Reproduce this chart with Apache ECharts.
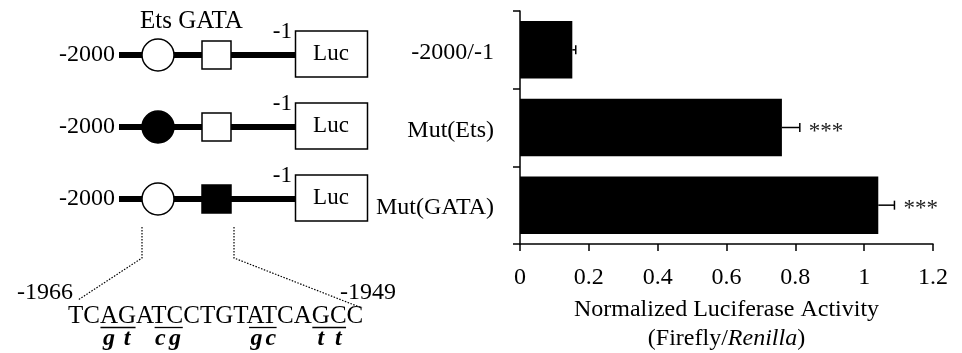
<!DOCTYPE html>
<html>
<head>
<meta charset="utf-8">
<script src="https://cdn.jsdelivr.net/npm/echarts@6/dist/echarts.min.js"></script>
<style>
  html, body { margin: 0; padding: 0; background: #fff; }
  #chart { width: 962px; height: 353px; }
</style>
</head>
<body>
<div id="chart"></div>
<script>
// Reporter constructs and their luciferase readout
const categories = ['-2000/-1', 'Mut(Ets)', 'Mut(GATA)'];
const activity = [0.152, 0.761, 1.041];
const activityErr = [0.010, 0.052, 0.047];
const significance = ['', '***', '***'];

// Value axis range and step
const axisMin = 0;
const axisMax = 1.2;
const axisStep = 0.2;

// Promoter schematic: which site is mutated in each construct
const constructStart = '-2000';
const constructEnd = '-1';
const etsMutated = [false, true, false];
const gataMutated = [false, false, true];

// Sequence detail of the mutated region
const seqStart = '-1966';
const seqEnd = '-1949';
const sequence = 'TCAGATCCTGTATCAGCC';
const mutations = [[2, 'g'], [3, 't'], [5, 'c'], [6, 'g'], [11, 'g'], [12, 'c'], [15, 't'], [16, 't']];

const SERIF = "'Liberation Serif', 'Times New Roman', serif";

function txt(text, x, y, size, align, vAlign) {
  return {
    type: 'text', z: 10,
    style: {
      text: text, x: x, y: y,
      font: size + 'px ' + SERIF,
      fill: '#000',
      align: align, textAlign: align,
      verticalAlign: vAlign, textVerticalAlign: vAlign
    }
  };
}

function buildSchematic() {
  const g = [];
  const rowY = [55, 127, 199];
  g.push(txt('Ets GATA', 140, 21, 25, 'left', 'middle'));
  rowY.forEach(function (y, i) {
    g.push(txt(constructStart, 115, y, 24, 'right', 'middle'));
    g.push({ type: 'line', z: 5, shape: { x1: 119, y1: y, x2: 296, y2: y },
             style: { stroke: '#000', lineWidth: 6 } });
    g.push({ type: 'circle', z: 6, shape: { cx: 158, cy: y, r: 16 },
             style: { fill: etsMutated[i] ? '#000' : '#fff', stroke: '#000', lineWidth: 1.5 } });
    g.push({ type: 'rect', z: 6, shape: { x: 202, y: y - 14, width: 29, height: 28 },
             style: { fill: gataMutated[i] ? '#000' : '#fff', stroke: '#000', lineWidth: 1.5 } });
    g.push({ type: 'rect', z: 6, shape: { x: 295.5, y: y - 24, width: 72, height: 46 },
             style: { fill: '#fff', stroke: '#000', lineWidth: 1.5 } });
    g.push(txt('Luc', 331, y - 1, 23, 'center', 'middle'));
    g.push(txt(constructEnd, 292, y - 23, 23, 'right', 'middle'));
  });

  // dotted leaders from the sites down to the sequence
  const dot = { stroke: '#000', lineWidth: 1.2, lineDash: [1.5, 1.5], fill: null };
  g.push({ type: 'polyline', z: 4, shape: { points: [[142, 227], [142, 258], [78, 300]] }, style: dot });
  g.push({ type: 'polyline', z: 4, shape: { points: [[234, 227], [234, 258], [362, 308]] }, style: dot });

  g.push(txt(seqStart, 73, 293, 24, 'right', 'middle'));
  g.push(txt(seqEnd, 340, 293, 24, 'left', 'middle'));

  // sequence with underlined mutated pairs
  const seqX = 68, seqY = 316, seqSize = 25;
  g.push(txt(sequence, seqX, seqY, seqSize, 'left', 'middle'));
  const ctx = document.createElement('canvas').getContext('2d');
  ctx.font = seqSize + 'px ' + SERIF;
  const charLeft = function (k) { return seqX + ctx.measureText(sequence.slice(0, k)).width; };
  // group consecutive mutated positions into underline runs
  const runs = [];
  mutations.forEach(function (m) {
    const last = runs[runs.length - 1];
    if (last && last[1] === m[0] - 1) last[1] = m[0];
    else runs.push([m[0], m[0]]);
  });
  runs.forEach(function (r) {
    g.push({ type: 'line', z: 6, shape: { x1: charLeft(r[0]) + 0.5, y1: 327.5, x2: charLeft(r[1] + 1) - 0.5, y2: 327.5 },
             style: { stroke: '#000', lineWidth: 1.3 } });
  });
  mutations.forEach(function (m) {
    const cx = (charLeft(m[0]) + charLeft(m[0] + 1)) / 2;
    g.push({ type: 'text', z: 10, style: {
      text: m[1], x: cx, y: 339, fill: '#000',
      font: 'italic bold 24px ' + SERIF,
      align: 'center', textAlign: 'center', verticalAlign: 'middle', textVerticalAlign: 'middle'
    } });
  });
  return g;
}

const chart = echarts.init(document.getElementById('chart'), null, { renderer: 'canvas' });

const axisLineStyle = { color: '#000', width: 1.5 };

chart.setOption({
  animation: false,
  backgroundColor: '#fff',
  grid: { left: 520, right: 29, top: 11, bottom: 109, containLabel: false, outerBoundsMode: 'none' },
  xAxis: {
    type: 'value',
    min: axisMin, max: axisMax, interval: axisStep,
    axisLine: { show: true, lineStyle: axisLineStyle },
    axisTick: { show: true, length: 7, lineStyle: axisLineStyle },
    splitLine: { show: false },
    axisLabel: { color: '#000', fontSize: 24, fontFamily: SERIF, margin: 22 },
    name: '{n|Normalized Luciferase Activity}\n{n|(Firefly/}{i|Renilla}{n|)}',
    nameLocation: 'middle',
    nameGap: 51,
    nameTextStyle: {
      color: '#000',
      lineHeight: 29,
      rich: {
        n: { fontSize: 24, fontFamily: SERIF, color: '#000', lineHeight: 29 },
        i: { fontSize: 24, fontFamily: SERIF, fontStyle: 'italic', color: '#000', lineHeight: 29 }
      }
    }
  },
  yAxis: {
    type: 'category',
    data: categories,
    inverse: true,
    axisLine: { show: true, lineStyle: axisLineStyle },
    axisTick: { show: true, length: 7, lineStyle: axisLineStyle },
    axisLabel: { color: '#000', fontSize: 24, fontFamily: SERIF, margin: 26, verticalAlign: 'top', lineHeight: 6 },
    splitLine: { show: false }
  },
  series: [
    {
      type: 'bar',
      data: activity,
      barCategoryGap: '26%',
      itemStyle: { color: '#000' },
      z: 2
    },
    {
      type: 'custom',
      z: 3,
      data: activity.map(function (v, i) { return [i, v, activityErr[i]]; }),
      encode: { x: 1, y: 0 },
      renderItem: function (params, api) {
        const cat = api.value(0), v = api.value(1), e = api.value(2);
        const a = api.coord([v, cat]);
        const b = api.coord([v + e, cat]);
        const cap = 9;
        const children = [
          { type: 'line', shape: { x1: a[0], y1: a[1], x2: b[0], y2: b[1] }, style: { stroke: '#000', lineWidth: 1.5 } },
          { type: 'line', shape: { x1: b[0], y1: b[1] - cap / 2, x2: b[0], y2: b[1] + cap / 2 }, style: { stroke: '#000', lineWidth: 1.5 } }
        ];
        const sig = significance[params.dataIndex];
        if (sig) {
          children.push({ type: 'text', style: {
            text: sig, x: b[0] + 9, y: b[1] + 4, fill: '#222',
            font: '23px ' + SERIF, align: 'left', textAlign: 'left',
            verticalAlign: 'middle', textVerticalAlign: 'middle'
          } });
        }
        return { type: 'group', children: children };
      }
    }
  ],
  graphic: { elements: buildSchematic() }
});
</script>
</body>
</html>
